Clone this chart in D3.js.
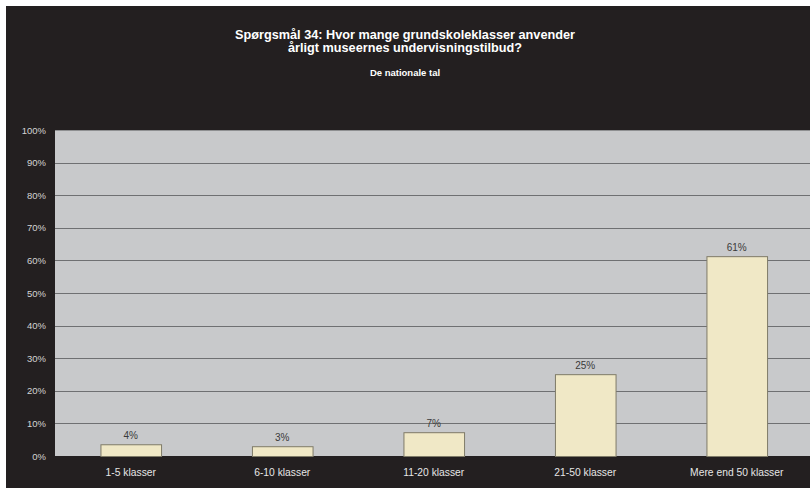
<!DOCTYPE html>
<html>
<head>
<meta charset="utf-8">
<script src="https://cdn.jsdelivr.net/npm/d3@7"></script>
<style>
  html, body { margin: 0; padding: 0; background: #fff; }
  svg { display: block; font-family: "Liberation Sans", Arial, sans-serif; }
</style>
</head>
<body>
<div id="chart"></div>
<script>
// chart data
var categories = ["1-5 klasser", "6-10 klasser", "11-20 klasser", "21-50 klasser", "Mere end 50 klasser"];
var values = [0.036, 0.030, 0.073, 0.251, 0.613];
var yTicks = [0, 0.1, 0.2, 0.3, 0.4, 0.5, 0.6, 0.7, 0.8, 0.9, 1.0];
var titleLines = ["Spørgsmål 34: Hvor mange grundskoleklasser anvender", "årligt museernes undervisningstilbud?"];
var subtitle = "De nationale tal";

var width = 810, height = 488;
var plot = { left: 55, right: 812.5, top: 130, bottom: 456 };

var svg = d3.select("#chart").append("svg")
  .attr("width", width).attr("height", height);

// dark frame, leaves a thin white strip top and left
svg.append("rect")
  .attr("x", 6).attr("y", 6)
  .attr("width", width - 6).attr("height", height - 6)
  .attr("fill", "#231f20");

var x = d3.scaleBand()
  .domain(categories)
  .range([plot.left, plot.right])
  .paddingInner(0.6)
  .paddingOuter(0.3);

var y = d3.scaleLinear()
  .domain([0, 1])
  .range([plot.bottom, plot.top]);

// plot background
svg.append("rect")
  .attr("x", plot.left).attr("y", plot.top)
  .attr("width", plot.right - plot.left)
  .attr("height", plot.bottom - plot.top)
  .attr("fill", "#c8c9cb");

// gridlines
svg.append("g")
  .selectAll("line")
  .data(yTicks.filter(function(d){ return d > 0; }))
  .enter().append("line")
  .attr("x1", plot.left).attr("x2", plot.right)
  .attr("y1", function(d){ return Math.round(y(d)) + 0.5; })
  .attr("y2", function(d){ return Math.round(y(d)) + 0.5; })
  .attr("stroke", function(d){ return d === 1 ? "#8e8f91" : "#6f7072"; })
  .attr("stroke-width", 1);

// y axis labels
var yAxis = d3.axisLeft(y)
  .tickValues(yTicks)
  .tickFormat(d3.format(".0%"))
  .tickSize(0)
  .tickPadding(9);

var ya = svg.append("g")
  .attr("transform", "translate(" + plot.left + ",0)")
  .call(yAxis);
ya.select(".domain").remove();
ya.selectAll("text")
  .attr("fill", "#d4d4d4")
  .style("font-size", "9.5px")
  .style("font-family", "Liberation Sans, Arial, sans-serif");

// x axis labels
var xAxis = d3.axisBottom(x).tickSize(0).tickPadding(13);
var xa = svg.append("g")
  .attr("transform", "translate(0," + plot.bottom + ")")
  .call(xAxis);
xa.select(".domain").remove();
xa.selectAll("text")
  .attr("fill", "#e6e6e6")
  .style("font-size", "10.3px")
  .style("font-family", "Liberation Sans, Arial, sans-serif");

// bars
svg.append("g")
  .selectAll("rect")
  .data(values)
  .enter().append("rect")
  .attr("x", function(d, i){ return x(categories[i]) + 0.5; })
  .attr("y", function(d){ return y(d) + 0.5; })
  .attr("width", x.bandwidth())
  .attr("height", function(d){ return y(0) - y(d); })
  .attr("fill", "#f0e8c6")
  .attr("stroke", "#7f7b68")
  .attr("stroke-width", 1);

// value labels
svg.append("g")
  .selectAll("text")
  .data(values)
  .enter().append("text")
  .attr("x", function(d, i){ return x(categories[i]) + x.bandwidth() / 2; })
  .attr("y", function(d){ return y(d) - 5; })
  .attr("text-anchor", "middle")
  .attr("fill", "#3a3a3a")
  .style("font-size", "10px")
  .text(d3.format(".0%"));

// titles
svg.append("g")
  .selectAll("text")
  .data(titleLines)
  .enter().append("text")
  .attr("x", 405)
  .attr("y", function(d, i){ return 39 + i * 13; })
  .attr("text-anchor", "middle")
  .attr("fill", "#ffffff")
  .style("font-size", "12.7px")
  .style("font-weight", "bold")
  .text(function(d){ return d; });

svg.append("text")
  .attr("x", 405).attr("y", 76)
  .attr("text-anchor", "middle")
  .attr("fill", "#ffffff")
  .style("font-size", "9.5px")
  .style("font-weight", "bold")
  .text(subtitle);
</script>
</body>
</html>
